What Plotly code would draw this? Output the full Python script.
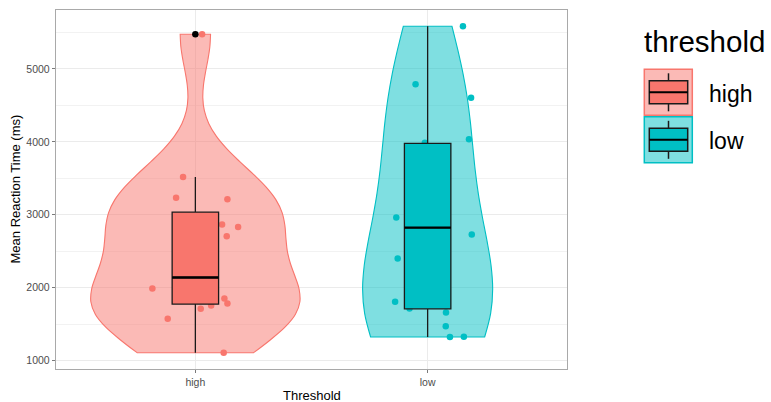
import numpy as np
import plotly.graph_objects as go

# ---- data -------------------------------------------------------------
groups = ["high", "low"]
colors = {"high": "#F8766D", "low": "#00BFC4"}

# per-participant mean reaction times (ms)
rt_high = [5475, 3518, 3235, 3212, 2865, 2834, 2706, 1989, 1575, 1711, 1757, 1852, 1784, 1109]
rt_low = [5584, 4790, 4603, 4034, 3986, 2961, 2728, 2400, 1807, 1715, 1661, 1470, 1324, 1328]

# horizontal jitter of each point (category units)
jit_high = [0.029, -0.053, -0.083, 0.138, 0.115, 0.184, 0.135, -0.185, -0.119, 0.023, 0.068, 0.125, 0.138, 0.122]
jit_low = [0.152, -0.052, 0.187, 0.178, -0.012, -0.135, 0.190, -0.129, -0.140, -0.078, 0.079, 0.078, 0.096, 0.156]

# boxplot summaries
box_lower = [1109, 1324]
box_q1 = [1776, 1711]
box_median = [2140, 2824]
box_q3 = [3035, 3978]
box_upper = [3518, 5584]
outliers_high = [5475]

y_ticks = [1000, 2000, 3000, 4000, 5000]

# kernel smoothing multiplier per group
bw_adjust = {"high": 1.0, "low": 1.3}

# ---- layout constants -------------------------------------------------
W, H = 771, 402
ML, MR, MT, MB = 56, 204, 10, 33
PW, PH = W - ML - MR, H - MT - MB
FONT = "Liberation Sans, Arial, Helvetica, sans-serif"
BOX_W = 0.2


def px(x):
    return (x - ML) / PW


def py(y):
    return (H - MB - y) / PH


def rgba(hex_col, a):
    h = hex_col.lstrip("#")
    r, g, b = (int(h[i:i + 2], 16) for i in (0, 2, 4))
    return f"rgba({r},{g},{b},{a})"


def bw_nrd0(v):
    v = np.asarray(v, float)
    q75, q25 = np.percentile(v, [75, 25])
    return 0.9 * min(v.std(ddof=1), (q75 - q25) / 1.34) * len(v) ** -0.2


def max_density(v, bw):
    v = np.asarray(v, float)
    grid = np.linspace(v.min(), v.max(), 512)
    d = np.exp(-0.5 * ((grid[:, None] - v[None, :]) / bw) ** 2).sum(1)
    return d.max() / (len(v) * bw * np.sqrt(2 * np.pi))


values = {"high": rt_high, "low": rt_low}
jitters = {"high": jit_high, "low": jit_low}
bws = {g: bw_nrd0(values[g]) * bw_adjust[g] for g in groups}
peaks = {g: max_density(values[g], bws[g]) for g in groups}
peak_all = max(peaks.values())

all_vals = rt_high + rt_low + outliers_high
lo, hi = min(all_vals), max(all_vals)
pad = 0.05 * (hi - lo)
y_range = [lo - pad, hi + pad]
x_range = [0.4, 2.6]

fig = go.Figure()

# violins (area-scaled) and jittered points on the base axes
for i, g in enumerate(groups):
    pos = i + 1
    fig.add_trace(go.Violin(
        x=[pos] * len(values[g]), y=values[g],
        width=0.9 * peaks[g] / peak_all, scalemode="width",
        bandwidth=bws[g], spanmode="hard",
        points=False, box_visible=False, meanline_visible=False,
        fillcolor=rgba(colors[g], 0.5),
        line=dict(color=colors[g], width=1.1),
        hoverinfo="skip", showlegend=False,
    ))
for i, g in enumerate(groups):
    pos = i + 1
    fig.add_trace(go.Scatter(
        x=[pos + j for j in jitters[g]], y=values[g], mode="markers",
        marker=dict(color=colors[g], size=6.5, line=dict(width=0)),
        showlegend=False,
    ))

# boxes on an overlaid pair of axes so they sit above the points
for i, g in enumerate(groups):
    pos = i + 1
    fig.add_trace(go.Box(
        x=[pos], q1=[box_q1[i]], median=[box_median[i]], q3=[box_q3[i]],
        lowerfence=[box_lower[i]], upperfence=[box_upper[i]],
        width=BOX_W, whiskerwidth=0,
        fillcolor=colors[g], line=dict(color="#1a1a1a", width=1.3),
        xaxis="x2", yaxis="y2", showlegend=False, hoverinfo="skip",
    ))
    fig.add_trace(go.Scatter(
        x=[pos - BOX_W / 2, pos + BOX_W / 2], y=[box_median[i]] * 2,
        mode="lines", line=dict(color="#000000", width=2.4),
        xaxis="x2", yaxis="y2", showlegend=False, hoverinfo="skip",
    ))
fig.add_trace(go.Scatter(
    x=[1] * len(outliers_high), y=outliers_high, mode="markers",
    marker=dict(color="#000000", size=6.5),
    xaxis="x2", yaxis="y2", showlegend=False,
))

axis_common = dict(
    showline=True, linecolor="#A9A9A9", linewidth=1.4, mirror=True,
    ticks="outside", ticklen=3, tickcolor="#7a7a7a", tickwidth=1,
    tickfont=dict(family=FONT, size=10.5, color="#4D4D4D"),
    zeroline=False,
)
fig.update_layout(
    width=W, height=H,
    margin=dict(l=ML, r=MR, t=MT, b=MB),
    paper_bgcolor="white", plot_bgcolor="white",
    xaxis=dict(range=x_range, tickvals=[1, 2], ticktext=groups,
               showgrid=True, gridcolor="#EBEBEB", gridwidth=1, **axis_common),
    yaxis=dict(range=y_range, tickvals=y_ticks, ticktext=[str(t) for t in y_ticks],
               showgrid=True, gridcolor="#EBEBEB", gridwidth=1,
               minor=dict(showgrid=True, gridcolor="#F2F2F2", gridwidth=0.7,
                          tickvals=[t + 500 for t in [500] + y_ticks]),
               **axis_common),
    xaxis2=dict(range=x_range, overlaying="x", visible=False),
    yaxis2=dict(range=y_range, overlaying="y", visible=False),
    violinmode="overlay", boxmode="overlay",
    showlegend=False,
)

# axis titles
fig.add_annotation(x=0.5, y=py(395), xref="paper", yref="paper", text="Threshold",
                   showarrow=False, font=dict(family=FONT, size=13, color="black"),
                   xanchor="center", yanchor="middle")
fig.add_annotation(x=px(15), y=0.5, xref="paper", yref="paper", text="Mean Reaction Time (ms)",
                   showarrow=False, textangle=-90, font=dict(family=FONT, size=13, color="black"),
                   xanchor="center", yanchor="middle")

# legend: title, keys (violin swatch with box glyph) and labels
fig.add_annotation(x=px(642), y=py(41), xref="paper", yref="paper", text="threshold",
                   showarrow=False, font=dict(family=FONT, size=29.5, color="black"),
                   xanchor="left", yanchor="middle")
key_top, key_h = 69.3, 47.5
for k, g in enumerate(groups):
    t = key_top + k * key_h
    b = t + key_h - 1.5
    cx = 668.5
    shapes = [
        dict(type="rect", x0=px(644.3), x1=px(692.3), y0=py(b), y1=py(t),
             fillcolor=rgba(colors[g], 0.5), line=dict(color=colors[g], width=1.5)),
        dict(type="line", x0=px(cx), x1=px(cx), y0=py(t + 4), y1=py(t + 11.5),
             line=dict(color="#1a1a1a", width=1.5)),
        dict(type="line", x0=px(cx), x1=px(cx), y0=py(b - 11.5), y1=py(b - 4),
             line=dict(color="#1a1a1a", width=1.5)),
        dict(type="rect", x0=px(649.3), x1=px(687.7), y0=py(b - 11.5), y1=py(t + 11.5),
             fillcolor=colors[g], line=dict(color="#1a1a1a", width=1.5)),
        dict(type="line", x0=px(649.3), x1=px(687.7), y0=py((t + b) / 2), y1=py((t + b) / 2),
             line=dict(color="#000000", width=2)),
    ]
    for s in shapes:
        fig.add_shape(xref="paper", yref="paper", layer="above", **s)
    fig.add_annotation(x=px(707), y=py((t + b) / 2 + 1.5), xref="paper", yref="paper", text=g,
                       showarrow=False, font=dict(family=FONT, size=23, color="black"),
                       xanchor="left", yanchor="middle")

fig.write_html("out.html")
